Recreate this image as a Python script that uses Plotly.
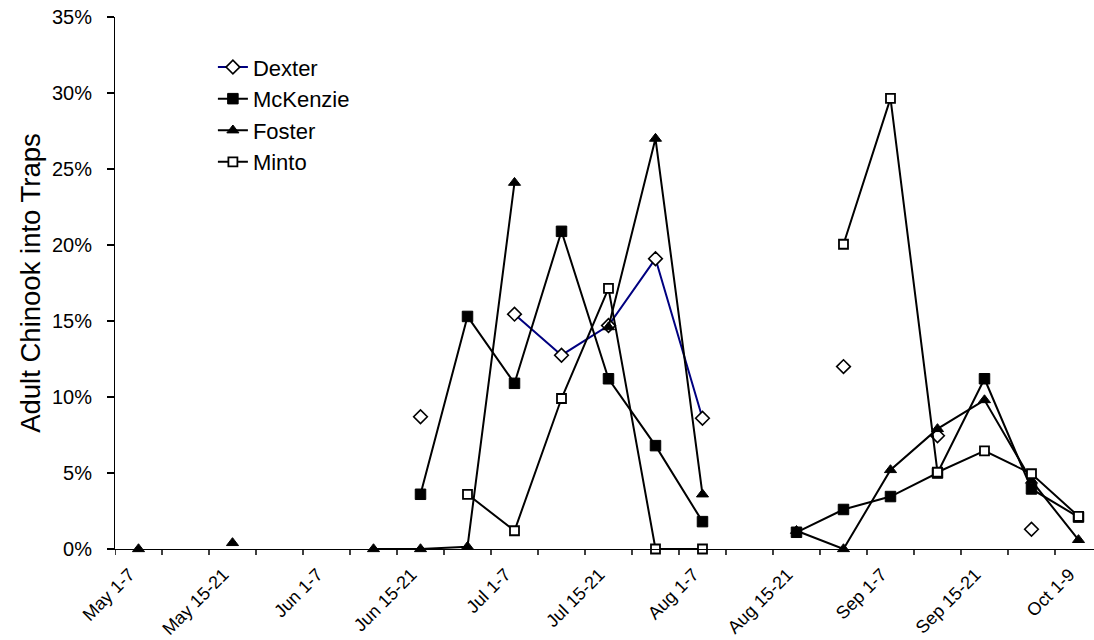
import plotly.graph_objects as go

# Categories (weekly periods)
categories = ["May 1-7", "May 8-14", "May 15-21", "May 22-31", "Jun 1-7", "Jun 8-14",
              "Jun 15-21", "Jun 22-30", "Jul 1-7", "Jul 8-14", "Jul 15-21", "Jul 22-31",
              "Aug 1-7", "Aug 8-14", "Aug 15-21", "Aug 22-31", "Sep 1-7", "Sep 8-14",
              "Sep 15-21", "Sep 22-30", "Oct 1-9"]
tick_labels = ["May 1-7", "May 15-21", "Jun 1-7", "Jun 15-21", "Jul 1-7", "Jul 15-21",
               "Aug 1-7", "Aug 15-21", "Sep 1-7", "Sep 15-21", "Oct 1-9"]
y_ticks = [0, 5, 10, 15, 20, 25, 30, 35]

N = None
dexter = [N, N, N, N, N, N, 8.7, N, 15.45, 12.75, 14.7, 19.1, 8.6, N, N, 12.0, N, 7.45, N, 1.3, N]
mckenzie = [N, N, N, N, N, N, 3.6, 15.3, 10.9, 20.9, 11.2, 6.8, 1.8, N, 1.1, 2.6, 3.45, 5.0, 11.2, 3.95, 2.1]
foster = [0.0, N, 0.4, N, N, 0.0, 0.0, 0.15, 24.1, N, 14.6, 27.0, 3.6, N, 1.2, 0.0, 5.2, 7.9, 9.8, 4.5, 0.6]
minto = [N, N, N, N, N, N, N, 3.6, 1.2, 9.9, 17.15, 0.0, 0.0, N, N, 20.05, 29.65, 5.05, 6.45, 4.95, 2.15]

xidx = list(range(len(categories)))
label_pos = [categories.index(t) for t in tick_labels]

FONT = "Liberation Sans, Arial, sans-serif"
W, H = 1094, 640
ML, MR, MT, MB = 115, 0, 17, 91
PW, PH = W - ML - MR, H - MT - MB

fig = go.Figure()
series = [
    ("Dexter", dexter, "#000080", dict(symbol="diamond", size=10.5, color="white", line=dict(color="black", width=1.6))),
    ("McKenzie", mckenzie, "black", dict(symbol="square", size=10.5, color="black", line=dict(color="black", width=1))),
    ("Foster", foster, "black", dict(symbol="triangle-up", size=10.5, color="black", line=dict(color="black", width=1))),
    ("Minto", minto, "black", dict(symbol="square", size=9, color="white", line=dict(color="black", width=1.8))),
]
for name, vals, lc, mk in series:
    fig.add_trace(go.Scatter(x=xidx, y=vals, name=name, mode="lines+markers",
                             line=dict(color=lc, width=2), marker=mk,
                             connectgaps=False, cliponaxis=False))

xr = [-0.5, 20.33]

# x tick marks between categories (Excel style)
shapes = []
for i in range(len(categories) + 1):
    shapes.append(dict(type="line", xref="x", yref="paper", x0=i - 0.5, x1=i - 0.5,
                       y0=0, y1=-6 / PH, line=dict(color="black", width=1.5), layer="above"))

fig.update_layout(
    template="none",
    width=W, height=H,
    margin=dict(l=ML, r=MR, t=MT, b=MB),
    paper_bgcolor="white", plot_bgcolor="white",
    font=dict(family=FONT, color="black"),
    showlegend=True,
    legend=dict(x=0.1, y=0.945, xanchor="left", yanchor="top",
                font=dict(size=22, family=FONT), bgcolor="rgba(0,0,0,0)",
                tracegroupgap=0),
    xaxis=dict(range=xr, tickmode="array", tickvals=label_pos, ticktext=tick_labels,
               tickangle=-45, ticks="", showgrid=False, zeroline=False,
               showline=True, linecolor="#000000", linewidth=1,
               tickfont=dict(size=18, family=FONT),
               ticklabelstandoff=7, ticklabelshift=-9),
    yaxis=dict(range=[0, 35], tickmode="array", tickvals=y_ticks,
               ticktext=[f"{v}%" for v in y_ticks],
               ticks="outside", ticklen=7, tickwidth=1.5, tickcolor="#000000",
               showgrid=False, zeroline=False, showline=True,
               linecolor="#000000", linewidth=1,
               tickfont=dict(size=20, family=FONT), ticklabelstandoff=11,
               title=dict(text="Adult Chinook into Traps", font=dict(size=27.5, family=FONT),
                          standoff=3)),
    shapes=shapes,
)

fig.write_html("out.html")
